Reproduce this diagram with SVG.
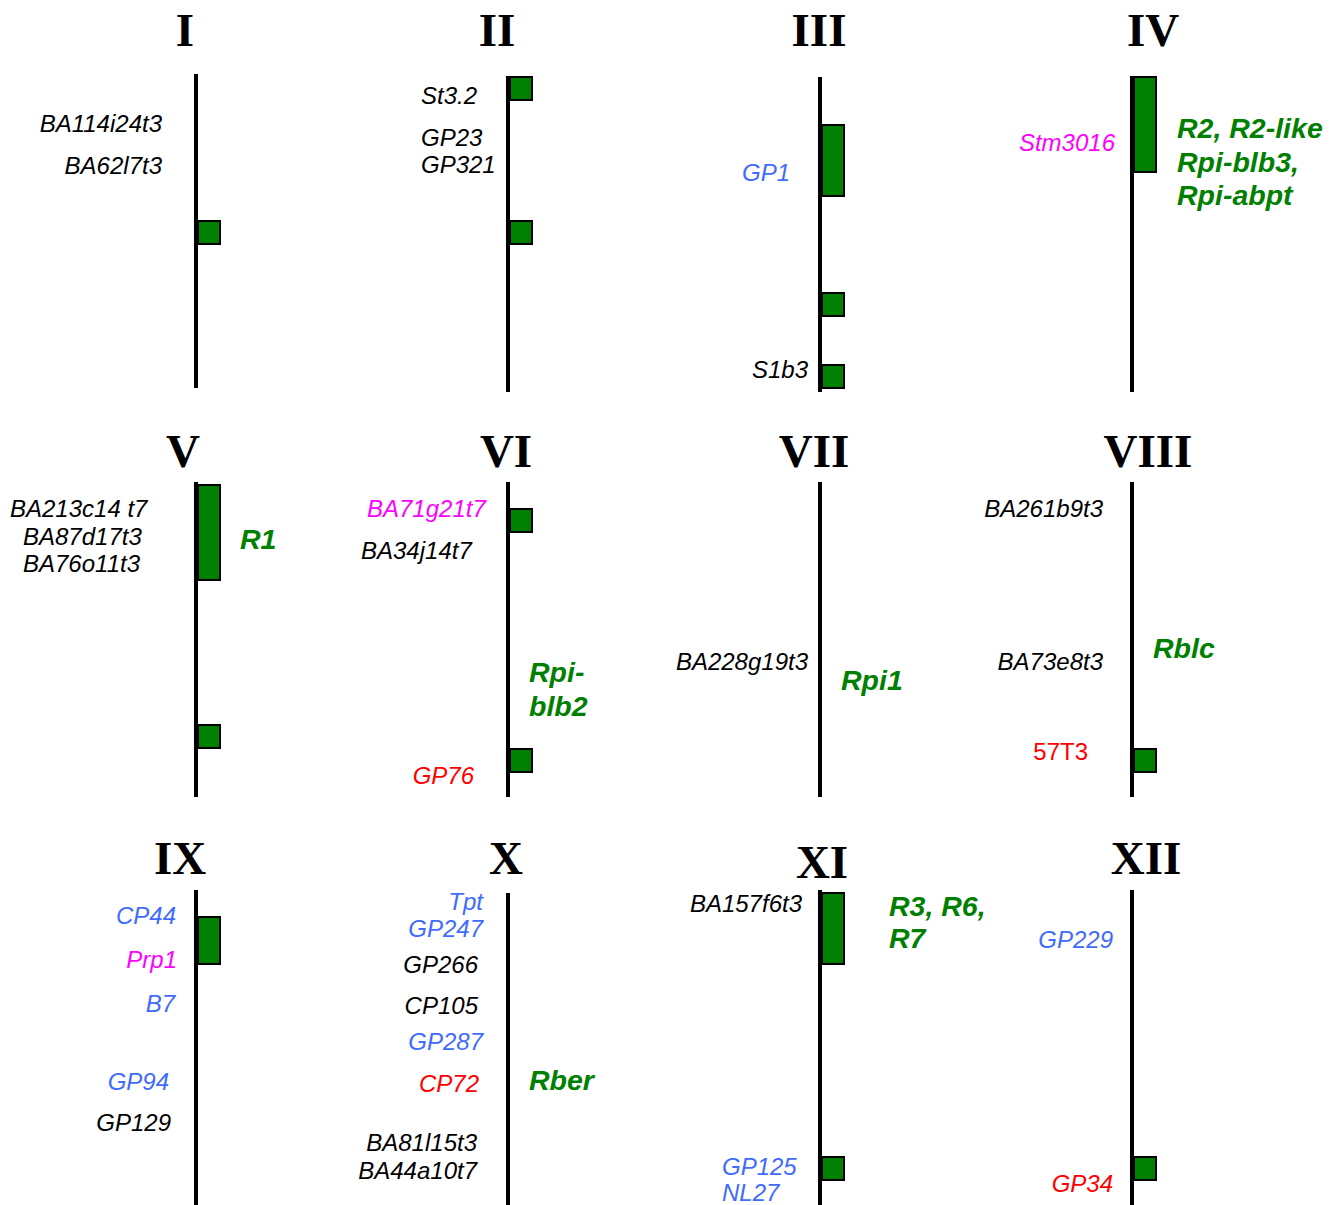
<svg xmlns="http://www.w3.org/2000/svg" width="1342" height="1205" viewBox="0 0 1342 1205">
<style>
.t{font-family:"Liberation Serif","Times New Roman",serif;font-weight:bold;font-size:47px;fill:#000;text-anchor:middle}
.l{font-family:"Liberation Sans",Arial,sans-serif;font-style:italic;font-size:24px;fill:#000}
.e{text-anchor:end}
.b{fill:#3F6BFF}
.m{fill:#FF00FF}
.r{fill:#FF0000}
.g{font-family:"Liberation Sans",Arial,sans-serif;font-style:italic;font-weight:bold;font-size:28.5px;fill:#008000}
.c{stroke:#000;stroke-width:4}
.k{fill:#008000;stroke:#000;stroke-width:2}
</style>
<rect width="1342" height="1205" fill="#fff"/>
<g id="chrI">
<text class="t" x="185" y="46">I</text>
<line class="c" x1="196" y1="74" x2="196" y2="388"/>
<rect class="k" x="198" y="221" width="22" height="23"/>
<text class="l e" x="162" y="132">BA114i24t3</text>
<text class="l e" x="162" y="174">BA62l7t3</text>
</g>
<g id="chrII">
<text class="t" x="497" y="46">II</text>
<line class="c" x1="508" y1="76" x2="508" y2="392"/>
<rect class="k" x="510" y="77" width="22" height="23"/>
<rect class="k" x="510" y="221" width="22" height="23"/>
<text class="l" x="421" y="104">St3.2</text>
<text class="l" x="421" y="146">GP23</text>
<text class="l" x="421" y="173">GP321</text>
</g>
<g id="chrIII">
<text class="t" x="819" y="46">III</text>
<line class="c" x1="820" y1="77" x2="820" y2="392"/>
<rect class="k" x="822" y="125" width="22" height="71"/>
<rect class="k" x="822" y="293" width="22" height="23"/>
<rect class="k" x="822" y="365" width="22" height="23"/>
<text class="l b e" x="790" y="181">GP1</text>
<text class="l e" x="808" y="378">S1b3</text>
</g>
<g id="chrIV">
<text class="t" x="1153" y="46">IV</text>
<line class="c" x1="1132" y1="76" x2="1132" y2="392"/>
<rect class="k" x="1134" y="77" width="22" height="95"/>
<text class="l m e" x="1115" y="151">Stm3016</text>
<text class="g" x="1177" y="138">R2, R2-like</text>
<text class="g" x="1177" y="172">Rpi-blb3,</text>
<text class="g" x="1177" y="205">Rpi-abpt</text>
</g>
<g id="chrV">
<text class="t" x="183" y="467">V</text>
<line class="c" x1="196" y1="482" x2="196" y2="797"/>
<rect class="k" x="198" y="485" width="22" height="95"/>
<rect class="k" x="198" y="725" width="22" height="23"/>
<text class="l" x="10" y="517">BA213c14 t7</text>
<text class="l" x="23" y="545">BA87d17t3</text>
<text class="l" x="23" y="572">BA76o11t3</text>
<text class="g" x="240" y="549">R1</text>
</g>
<g id="chrVI">
<text class="t" x="506" y="467">VI</text>
<line class="c" x1="508" y1="482" x2="508" y2="797"/>
<rect class="k" x="510" y="509" width="22" height="23"/>
<rect class="k" x="510" y="749" width="22" height="23"/>
<text class="l m" x="367" y="517">BA71g21t7</text>
<text class="l" x="361" y="559">BA34j14t7</text>
<text class="g" x="529" y="682">Rpi-</text>
<text class="g" x="529" y="716">blb2</text>
<text class="l r e" x="474" y="784">GP76</text>
</g>
<g id="chrVII">
<text class="t" x="814" y="467">VII</text>
<line class="c" x1="820" y1="482" x2="820" y2="797"/>
<text class="l e" x="808" y="670">BA228g19t3</text>
<text class="g" x="841" y="690">Rpi1</text>
</g>
<g id="chrVIII">
<text class="t" x="1148" y="467">VIII</text>
<line class="c" x1="1132" y1="482" x2="1132" y2="797"/>
<rect class="k" x="1134" y="749" width="22" height="23"/>
<text class="l e" x="1103" y="517">BA261b9t3</text>
<text class="l e" x="1103" y="670">BA73e8t3</text>
<text class="l r e" x="1088" y="760" style="font-style:normal">57T3</text>
<text class="g" x="1153" y="658">Rblc</text>
</g>
<g id="chrIX">
<text class="t" x="180" y="874">IX</text>
<line class="c" x1="196" y1="890" x2="196" y2="1205"/>
<rect class="k" x="198" y="917" width="22" height="47"/>
<text class="l b e" x="176" y="924">CP44</text>
<text class="l m e" x="177" y="968">Prp1</text>
<text class="l b e" x="175" y="1012">B7</text>
<text class="l b e" x="169" y="1090">GP94</text>
<text class="l e" x="171" y="1131">GP129</text>
</g>
<g id="chrX">
<text class="t" x="506" y="874">X</text>
<line class="c" x1="508" y1="893" x2="508" y2="1205"/>
<text class="l b e" x="483" y="910">Tpt</text>
<text class="l b e" x="483" y="937">GP247</text>
<text class="l e" x="478" y="973">GP266</text>
<text class="l e" x="478" y="1014">CP105</text>
<text class="l b e" x="483" y="1050">GP287</text>
<text class="l r e" x="479" y="1092">CP72</text>
<text class="l e" x="477" y="1151">BA81l15t3</text>
<text class="l e" x="477" y="1179">BA44a10t7</text>
<text class="g" x="529" y="1090">Rber</text>
</g>
<g id="chrXI">
<text class="t" x="822" y="878">XI</text>
<line class="c" x1="820" y1="890" x2="820" y2="1205"/>
<rect class="k" x="822" y="893" width="22" height="71"/>
<rect class="k" x="822" y="1157" width="22" height="23"/>
<text class="l e" x="802" y="912">BA157f6t3</text>
<text class="g" x="889" y="916">R3, R6,</text>
<text class="g" x="889" y="948">R7</text>
<text class="l b" x="722" y="1175">GP125</text>
<text class="l b" x="722" y="1201">NL27</text>
</g>
<g id="chrXII">
<text class="t" x="1146" y="874">XII</text>
<line class="c" x1="1132" y1="890" x2="1132" y2="1205"/>
<rect class="k" x="1134" y="1157" width="22" height="23"/>
<text class="l b e" x="1113" y="948">GP229</text>
<text class="l r e" x="1113" y="1192">GP34</text>
</g>
<g id="connectors"/>
</svg>
